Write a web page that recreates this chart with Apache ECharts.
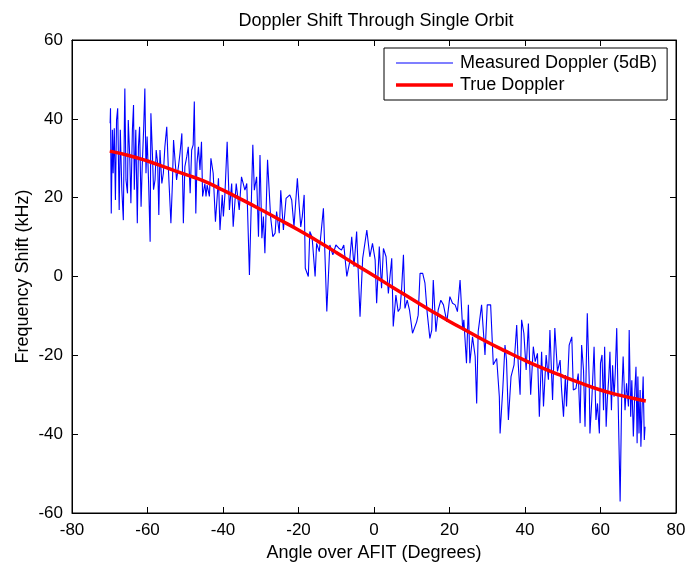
<!DOCTYPE html>
<html>
<head>
<meta charset="UTF-8">
<title>Doppler Shift Through Single Orbit</title>
<style>
  html, body { margin: 0; padding: 0; background: #fff; }
  #chart { width: 686px; height: 563px; }
</style>
</head>
<body>
<div id="chart"></div>
<script src="https://cdn.jsdelivr.net/npm/echarts@6/dist/echarts.min.js"></script>
<script>
// measured doppler, [angle, kHz]
var measured = [
  [-69.9, 38.9], [-69.8, 42.7], [-69.6, 16.0], [-69.3, 37.2], [-69.1, 26.2], [-68.8, 37.6],
  [-68.5, 19.4], [-68.2, 39.7], [-67.9, 42.7], [-67.5, 16.9], [-67.2, 37.2], [-66.8, 22.0],
  [-66.4, 14.3], [-66.1, 41.4], [-66.0, 47.7], [-65.7, 24.5], [-65.3, 21.1], [-65.1, 39.7],
  [-64.7, 30.4], [-64.4, 18.6], [-64.0, 37.2], [-63.7, 43.5], [-63.5, 22.0], [-63.1, 37.2],
  [-62.7, 13.5], [-62.4, 32.9], [-62.1, 38.0], [-61.7, 17.7], [-61.4, 27.9], [-61.0, 38.0],
  [-60.7, 47.7], [-60.4, 26.2], [-60.1, 35.5], [-59.7, 23.6], [-59.3, 8.8], [-59.1, 41.4],
  [-58.7, 31.2], [-58.4, 22.0], [-58.0, 24.5], [-57.7, 32.1], [-57.3, 28.7], [-57.0, 15.6],
  [-56.7, 32.1], [-56.2, 23.6], [-55.8, 26.2], [-55.4, 32.9], [-54.9, 38.0], [-54.5, 27.9],
  [-54.0, 17.7], [-53.8, 13.5], [-53.4, 23.6], [-53.1, 34.6], [-52.7, 29.5], [-52.3, 24.5],
  [-51.8, 27.9], [-51.4, 31.2], [-50.9, 36.3], [-50.5, 13.5], [-50.1, 27.9], [-49.6, 30.4],
  [-49.2, 32.9], [-48.7, 21.1], [-48.3, 32.1], [-47.9, 33.4], [-47.6, 44.4], [-47.2, 16.0],
  [-46.9, 28.7], [-46.5, 32.9], [-46.1, 27.0], [-45.7, 34.2], [-45.4, 20.3], [-44.8, 23.6],
  [-44.5, 20.3], [-44.2, 23.2], [-43.6, 20.3], [-43.2, 30.0], [-42.6, 26.2], [-42.0, 13.9],
  [-41.2, 24.9], [-40.8, 11.8], [-40.2, 20.7], [-39.9, 15.2], [-39.5, 20.7], [-38.9, 34.2],
  [-38.3, 16.9], [-37.7, 23.6], [-37.3, 12.6], [-36.5, 23.6], [-35.7, 16.9], [-35.1, 25.3],
  [-34.2, 21.9], [-33.7, 23.6], [-33.0, 0.4], [-32.1, 33.4], [-31.7, 21.9], [-31.1, 25.3],
  [-30.6, 10.1], [-30.2, 30.8], [-29.7, 9.7], [-29.3, 15.2], [-28.9, 5.9], [-28.2, 29.6],
  [-27.4, 15.2], [-26.8, 10.1], [-26.2, 11.0], [-25.8, 16.5], [-25.1, 11.0], [-24.7, 21.9],
  [-24.0, 11.8], [-23.3, 19.8], [-22.3, 20.7], [-21.8, 19.4], [-21.2, 12.6], [-20.3, 24.9],
  [-19.8, 17.7], [-19.4, 12.6], [-19.0, 15.2], [-18.5, 20.7], [-18.2, 2.1], [-17.4, 0.0],
  [-17.0, 11.4], [-16.4, 10.0], [-15.6, 0.0], [-15.2, 8.4], [-14.5, 6.3], [-13.4, 17.3],
  [-12.5, -8.9], [-11.7, 8.0], [-10.9, 5.5], [-10.1, 8.0], [-9.2, 7.1], [-8.6, 6.7],
  [-8.0, 8.0], [-7.2, 0.0], [-6.5, 3.4], [-5.9, 10.1], [-5.3, 2.5], [-4.6, 11.4],
  [-3.7, -10.2], [-3.0, 4.6], [-1.9, 11.8], [-1.1, 5.0], [-0.4, 8.4], [0.3, 4.2],
  [0.7, -6.8], [1.4, 7.6], [2.0, -3.0], [2.5, 7.1], [3.2, 5.0], [3.8, -4.3],
  [4.7, 4.6], [5.1, -12.7], [5.8, -4.7], [6.4, -8.9], [6.9, -8.1], [7.3, -3.4],
  [7.8, 5.5], [8.2, -8.1], [8.8, -6.0], [9.4, -8.5], [10.2, -14.4], [11.3, -11.5],
  [11.7, -9.8], [12.2, 0.8], [12.9, 0.8], [13.5, -1.7], [14.1, -9.3], [14.8, -15.7],
  [15.3, -13.6], [15.7, -0.9], [16.4, -14.0], [17.0, -8.5], [17.7, -6.0], [18.4, -7.2],
  [19.3, -11.5], [20.1, -5.1], [20.8, -6.8], [21.5, -7.2], [22.1, -8.9], [22.8, -0.9],
  [23.5, -13.6], [23.8, -11.0], [24.5, -22.0], [25.0, -7.2], [25.4, -22.0], [26.1, -15.3],
  [26.8, -20.3], [27.2, -32.2], [27.6, -14.0], [28.5, -7.2], [29.4, -19.9], [30.0, -7.2],
  [30.9, -7.2], [31.6, -22.4], [32.5, -20.8], [33.2, -30.5], [33.4, -39.8], [34.1, -28.8],
  [34.7, -17.4], [35.1, -21.2], [35.6, -36.4], [36.3, -25.4], [37.1, -22.4], [37.8, -12.3],
  [38.2, -22.0], [38.7, -30.0], [39.1, -11.0], [39.7, -14.4], [40.3, -23.7], [40.9, -11.9],
  [41.5, -30.0], [42.2, -17.8], [42.7, -21.6], [43.3, -19.5], [43.8, -35.6], [44.4, -19.1],
  [44.9, -33.0], [45.6, -19.9], [46.2, -26.2], [46.6, -13.6], [47.3, -31.3], [47.9, -13.1],
  [48.6, -24.1], [49.3, -21.2], [49.7, -28.8], [50.2, -35.6], [50.7, -25.0], [51.0, -33.0],
  [51.7, -17.4], [52.4, -15.3], [52.8, -28.8], [53.5, -28.4], [54.1, -24.6], [54.6, -37.2],
  [55.0, -17.4], [55.5, -23.7], [55.9, -38.1], [56.5, -9.3], [57.0, -26.2], [57.2, -39.8],
  [57.7, -31.3], [58.3, -17.8], [58.8, -36.4], [59.2, -32.2], [59.7, -39.8], [60.0, -22.0],
  [60.4, -19.9], [60.8, -33.9], [61.1, -17.8], [61.5, -38.1], [61.8, -31.3], [62.2, -25.4],
  [62.5, -19.1], [62.9, -33.9], [63.2, -22.5], [63.6, -30.5], [63.9, -24.6], [64.3, -13.1],
  [64.7, -33.0], [65.2, -57.1], [65.6, -31.3], [66.0, -20.3], [66.5, -33.9], [66.9, -27.1],
  [67.4, -33.0], [67.6, -13.6], [68.0, -35.6], [68.3, -26.3], [68.7, -40.6], [69.1, -28.8],
  [69.4, -22.9], [69.7, -42.3], [69.9, -25.4], [70.2, -39.8], [70.5, -28.8], [70.7, -43.2],
  [71.0, -33.9], [71.3, -25.4], [71.6, -41.5], [71.8, -38.1]
];

// true doppler curve
var trueAngle = [-70, -65, -60, -55, -50, -45, -40, -35, -30, -25, -20, -15, -10, -5, 0,
                 5, 10, 15, 20, 25, 30, 35, 40, 45, 50, 55, 60, 65, 70, 72];
var trueShift = [31.8, 30.7, 29.3, 27.6, 25.9, 24.2, 21.9, 19.5, 17.0, 14.4, 11.8, 9.0, 6.1, 3.1, 0.2,
                 -2.8, -5.7, -8.6, -11.4, -14.0, -16.6, -19.0, -21.3, -23.4, -25.3, -27.1, -28.8, -30.1, -31.2, -31.6];

var xTicks = [-80, -60, -40, -20, 0, 20, 40, 60, 80];
var yTicks = [-60, -40, -20, 0, 20, 40, 60];

var truePts = trueAngle.map(function (a, i) { return [a, trueShift[i]]; });

var font = 'Liberation Sans';
var chart = echarts.init(document.getElementById('chart'));

function axisBase(extra) {
  var o = {
    type: 'value',
    splitLine: { show: false },
    axisLine: { show: true, onZero: false, lineStyle: { color: '#000', width: 1 } },
    axisTick: { show: true, inside: true, length: 6, lineStyle: { color: '#000' } },
    axisLabel: { color: '#000', fontSize: 17, fontFamily: font },
    nameTextStyle: { color: '#000', fontSize: 18, fontFamily: font }
  };
  for (var k in extra) o[k] = extra[k];
  return o;
}

var option = {
  animation: false,
  backgroundColor: '#fff',
  title: {
    text: 'Doppler Shift Through Single Orbit',
    left: 371,
    textAlign: 'center',
    top: 7,
    textStyle: { color: '#000', fontSize: 18, fontWeight: 'normal', fontFamily: font }
  },
  legend: {
    orient: 'vertical',
    left: 384,
    top: 48,
    padding: [6, 10, 6, 12],
    itemGap: 4,
    itemWidth: 57,
    itemHeight: 12,
    borderColor: '#000',
    borderWidth: 1,
    backgroundColor: '#fff',
    textStyle: { color: '#000', fontSize: 18, fontFamily: font, padding: [0, 0, 0, 2] },
    data: [
      { name: 'Measured Doppler (5dB)', icon: 'path://M0,0L57,0L57,1L0,1Z', itemStyle: { color: '#0000ff' } },
      { name: 'True Doppler', icon: 'path://M0,0L57,0L57,3.5L0,3.5Z', itemStyle: { color: '#ff0000' } }
    ]
  },
  grid: {
    left: 72, right: 10, top: 40, bottom: 50,
    outerBoundsMode: 'none',
    containLabel: false,
    show: true, borderColor: '#000', borderWidth: 1
  },
  xAxis: [
    axisBase({
      min: -80, max: 80, interval: 20,
      name: 'Angle over AFIT (Degrees)',
      nameLocation: 'middle', nameGap: 31,
      axisLabel: { color: '#000', fontSize: 17, fontFamily: font, margin: 9 }
    }),
    axisBase({
      position: 'top', min: -80, max: 80, interval: 20,
      axisLabel: { show: false }
    })
  ],
  yAxis: [
    axisBase({
      min: -60, max: 60, interval: 20,
      name: 'Frequency Shift (kHz)',
      nameLocation: 'middle', nameGap: 40,
      nameMoveOverlap: false,
      axisLabel: { color: '#000', fontSize: 17, fontFamily: font, margin: 9 }
    }),
    axisBase({
      position: 'right', min: -60, max: 60, interval: 20,
      axisLabel: { show: false }
    })
  ],
  series: [
    {
      name: 'Measured Doppler (5dB)',
      type: 'line',
      data: measured,
      showSymbol: false,
      lineStyle: { color: '#0000ff', width: 1.1 },
      itemStyle: { color: '#0000ff' },
      z: 2
    },
    {
      name: 'True Doppler',
      type: 'line',
      data: truePts,
      smooth: true,
      showSymbol: false,
      lineStyle: { color: '#ff0000', width: 3.5 },
      itemStyle: { color: '#ff0000' },
      z: 3
    }
  ]
};

chart.setOption(option);
</script>
</body>
</html>
